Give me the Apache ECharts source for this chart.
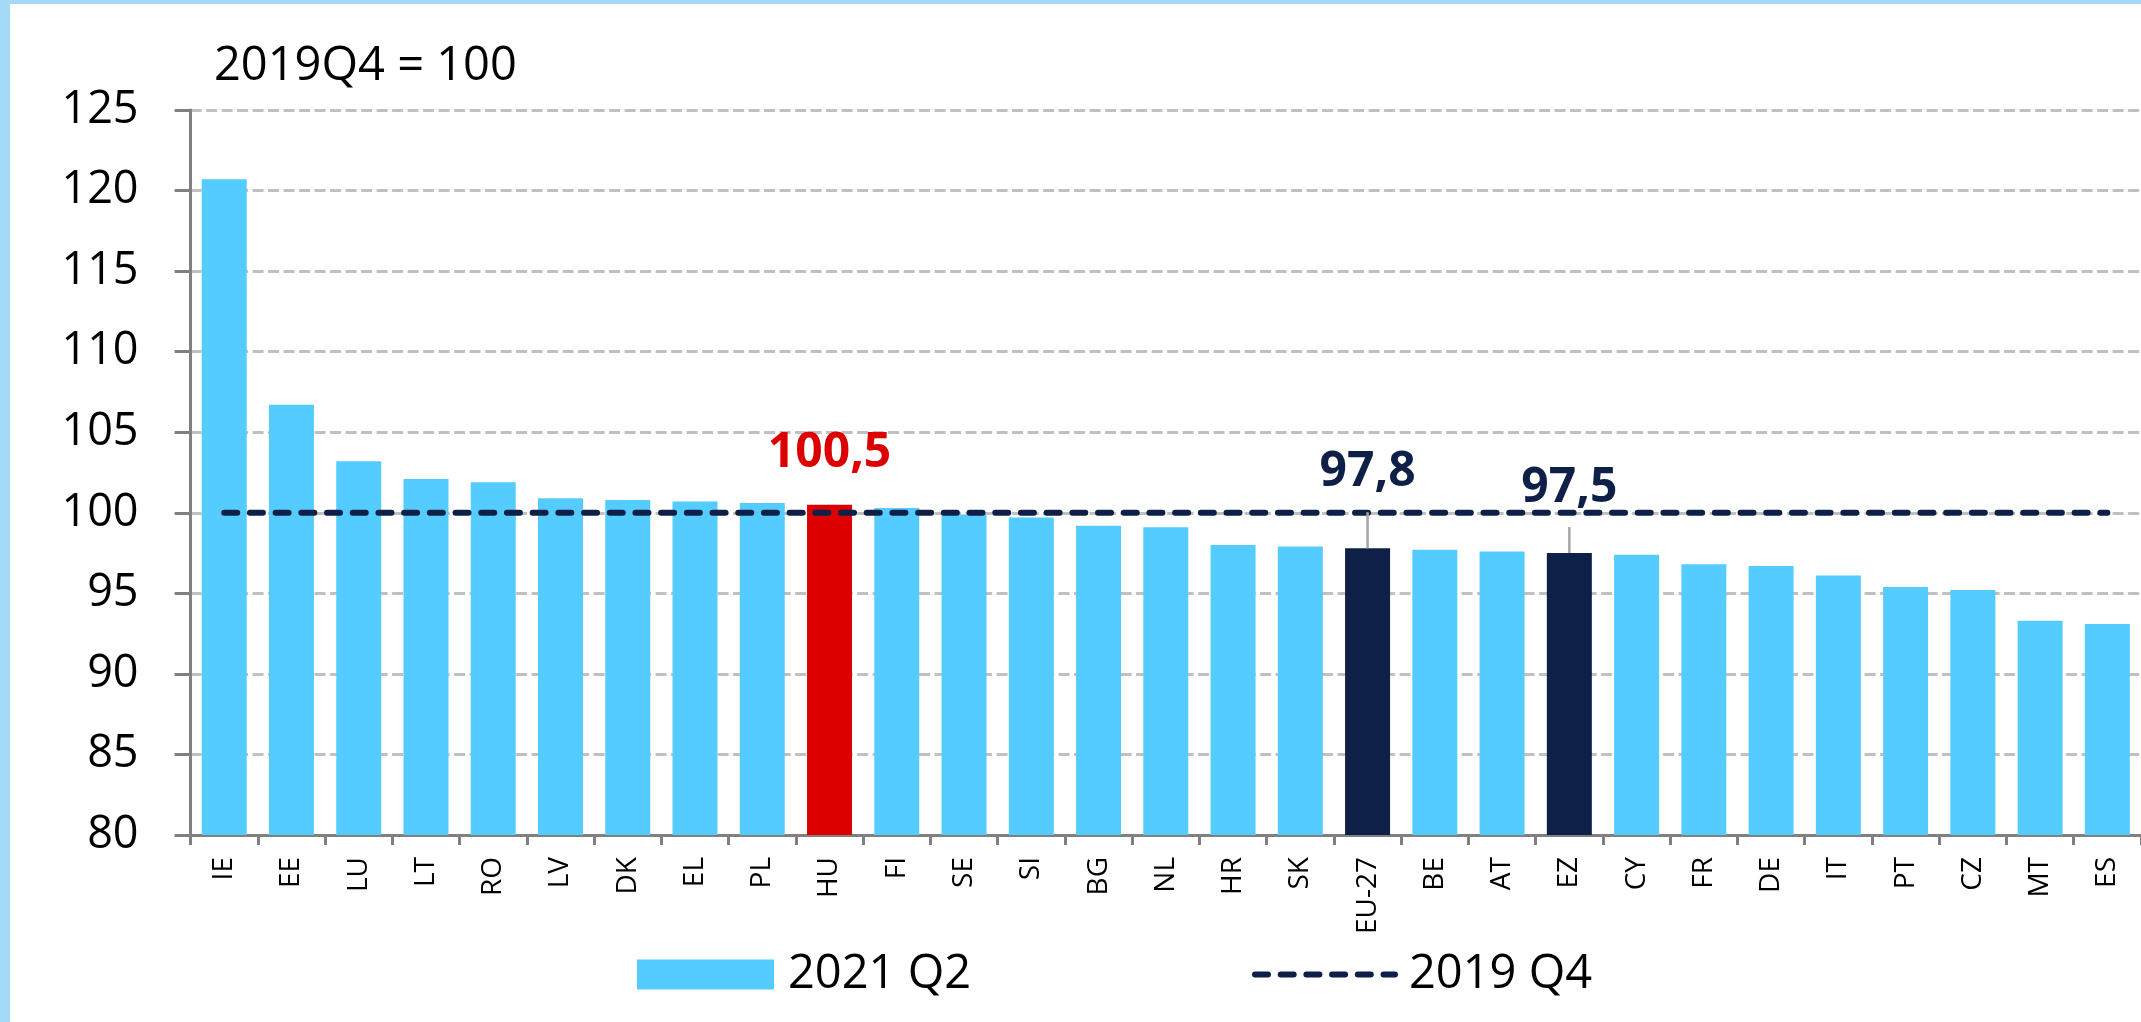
<!DOCTYPE html>
<html>
<head>
<meta charset="utf-8">
<script src="https://cdn.jsdelivr.net/npm/echarts@6/dist/echarts.min.js"></script>
<style>
  html, body { margin: 0; padding: 0; background: #ffffff; }
  #chart { width: 2141px; height: 1022px; }
</style>
</head>
<body>
<div id="chart"></div>
<script>
// ---- Data ----
const categories = ['IE','EE','LU','LT','RO','LV','DK','EL','PL','HU','FI','SE','SI','BG','NL','HR','SK','EU-27','BE','AT','EZ','CY','FR','DE','IT','PT','CZ','MT','ES'];
const values2021Q2 = [120.7,106.7,103.2,102.1,101.9,100.9,100.8,100.7,100.6,100.5,100.3,99.9,99.7,99.2,99.1,98.0,97.9,97.8,97.7,97.6,97.5,97.4,96.8,96.7,96.1,95.4,95.2,93.3,93.1];
const values2019Q4 = [100,100,100,100,100,100,100,100,100,100,100,100,100,100,100,100,100,100,100,100,100,100,100,100,100,100,100,100,100];
const yTicks = { min: 80, max: 125, interval: 5 };
const seriesNames = ['2021 Q2', '2019 Q4'];
const titleText = '2019Q4 = 100';
const labelledCategories = ['HU', 'EU-27', 'EZ'];

// ---- Styles ----
const FONT = '"Open Sans", "Noto Sans", sans-serif';
const C_BAR = '#55ccff';
const C_RED = '#dc0000';
const C_NAVY = '#0e2047';
const C_GRID = '#c0c0c0';
const C_AXIS = '#808080';
const highlightColors = { 'HU': C_RED, 'EU-27': C_NAVY, 'EZ': C_NAVY };
// label placement (pixels above the bar top) and leader line length
const labelStyle = {
  'HU':    { rise: 51, line: 0,  color: C_RED },
  'EU-27': { rise: 76, line: 36, color: C_NAVY },
  'EZ':    { rise: 65, line: 26, color: C_NAVY }
};

const barData = values2021Q2.map((v, i) => {
  const c = highlightColors[categories[i]];
  return c ? { value: v, itemStyle: { color: c } } : v;
});
const annotData = labelledCategories.map(name => {
  const i = categories.indexOf(name);
  return [i, values2021Q2[i]];
});
const fmt = v => v.toFixed(1).replace('.', ',');

const chart = echarts.init(document.getElementById('chart'), null, { renderer: 'canvas' });
chart.setOption({
  animation: false,
  backgroundColor: '#ffffff',
  textStyle: { fontFamily: FONT },
  title: {
    text: titleText,
    left: 209,
    top: 38,
    textStyle: { fontFamily: FONT, fontSize: 47, fontWeight: 'normal', color: '#000' }
  },
  graphic: [
    { type: 'rect', shape: { x: 0, y: 0, width: 10, height: 1022 }, style: { fill: '#a3dbf7' }, z: 100 },
    { type: 'rect', shape: { x: 0, y: 0, width: 2141, height: 4 }, style: { fill: '#a3dbf7' }, z: 100 }
  ],
  legend: [
    {
      data: [{ name: seriesNames[0], icon: 'rect' }],
      left: 632, top: 946,
      itemWidth: 137, itemHeight: 30,
      textStyle: { fontFamily: FONT, fontSize: 47, color: '#000', padding: [0, 0, 0, 9] }
    },
    {
      data: [{
        name: seriesNames[1],
        lineStyle: { width: 6, type: [13, 12.7], cap: 'round', color: C_NAVY },
        itemStyle: { opacity: 0 }
      }],
      left: 1247, top: 946,
      itemWidth: 140, itemHeight: 30,
      textStyle: { fontFamily: FONT, fontSize: 47, color: '#000', padding: [0, 0, 0, 9] }
    }
  ],
  grid: { left: 190.6, top: 110, width: 1955.5, height: 725, containLabel: false },
  xAxis: {
    type: 'category',
    data: categories,
    axisLine: { show: true, lineStyle: { color: C_AXIS, width: 3 } },
    axisTick: { show: true, length: 10, lineStyle: { color: C_AXIS, width: 3 } },
    axisLabel: { rotate: 90, interval: 0, margin: 22, fontFamily: FONT, fontSize: 28, color: '#000' },
    splitLine: { show: false }
  },
  yAxis: {
    type: 'value',
    min: yTicks.min, max: yTicks.max, interval: yTicks.interval,
    axisLine: { show: true, lineStyle: { color: C_AXIS, width: 3 } },
    axisTick: { show: true, length: 16, lineStyle: { color: C_AXIS, width: 3 } },
    axisLabel: { margin: 52, fontFamily: FONT, fontSize: 45, color: '#000' },
    splitLine: { show: true, lineStyle: { color: C_GRID, width: 3, type: [11, 4.5] } }
  },
  series: [
    {
      name: seriesNames[0],
      type: 'bar',
      data: barData,
      barWidth: 45,
      itemStyle: { color: C_BAR },
      z: 2,
      silent: true
    },
    {
      name: seriesNames[1],
      type: 'line',
      data: values2019Q4,
      symbol: 'none',
      lineStyle: { color: C_NAVY, width: 6, type: [13, 12.7], cap: 'round' },
      itemStyle: { color: C_NAVY },
      z: 4,
      silent: true
    },
    {
      name: 'labels',
      type: 'custom',
      data: annotData,
      z: 5,
      silent: true,
      renderItem: function (params, api) {
        const idx = api.value(0);
        const v = api.value(1);
        const pt = api.coord([idx, v]);
        const cfg = labelStyle[categories[idx]];
        const children = [];
        if (cfg.line > 0) {
          children.push({
            type: 'line',
            shape: { x1: pt[0], y1: pt[1], x2: pt[0], y2: pt[1] - cfg.line },
            style: { stroke: '#a6a6a6', lineWidth: 2.5 }
          });
        }
        children.push({
          type: 'text',
          x: pt[0], y: pt[1] - cfg.rise,
          style: {
            text: fmt(v),
            fill: cfg.color,
            font: 'bold 48px ' + FONT,
            align: 'center',
            verticalAlign: 'middle'
          }
        });
        return { type: 'group', children: children };
      }
    }
  ]
});
</script>
</body>
</html>
